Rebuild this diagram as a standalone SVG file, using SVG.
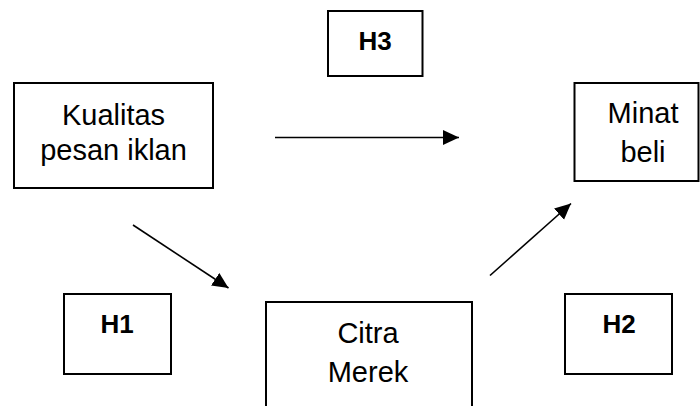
<svg xmlns="http://www.w3.org/2000/svg" width="700" height="406" viewBox="0 0 700 406">
<defs>
<style>
.box{fill:#fff;stroke:#000;stroke-width:2}
.lbl{font-family:"Liberation Sans",Arial,sans-serif;font-size:29px;fill:#000;text-anchor:middle}
.h{font-family:"Liberation Sans",Arial,sans-serif;font-size:26px;font-weight:bold;fill:#000;text-anchor:middle}
.conn{stroke:#000;stroke-width:1.6;fill:none;marker-end:url(#ah)}
</style>
<marker id="ah" markerUnits="userSpaceOnUse" markerWidth="18" markerHeight="16" refX="16" refY="7.5" orient="auto">
<path d="M0,0 L16,7.5 L0,15 Z" fill="#000"/>
</marker>
</defs>
<rect width="700" height="406" fill="#fff"/>
<g id="kualitas">
<rect class="box" x="14" y="83" width="199" height="105"/>
<text class="lbl" x="113.5" y="125">Kualitas</text>
<text class="lbl" x="113.5" y="160">pesan iklan</text>
</g>
<g id="minat">
<rect class="box" x="574.5" y="83" width="124" height="98"/>
<text class="lbl" x="643" y="123">Minat</text>
<text class="lbl" x="643" y="162">beli</text>
</g>
<g id="citra">
<rect class="box" x="266" y="302" width="206" height="120"/>
<text class="lbl" x="368" y="343">Citra</text>
<text class="lbl" x="368" y="382">Merek</text>
</g>
<g id="h3">
<rect class="box" x="328" y="11" width="94.5" height="65"/>
<text class="h" x="375" y="50">H3</text>
</g>
<g id="h1">
<rect class="box" x="64" y="294" width="107" height="80"/>
<text class="h" x="117" y="333">H1</text>
</g>
<g id="h2">
<rect class="box" x="565" y="294" width="107" height="80"/>
<text class="h" x="619" y="333">H2</text>
</g>
<g id="connectors">
<line class="conn" x1="275" y1="137.5" x2="459" y2="137.5"/>
<line class="conn" x1="133" y1="225" x2="228.5" y2="288"/>
<line class="conn" x1="490" y1="275.5" x2="571" y2="203.5"/>
</g>
</svg>
